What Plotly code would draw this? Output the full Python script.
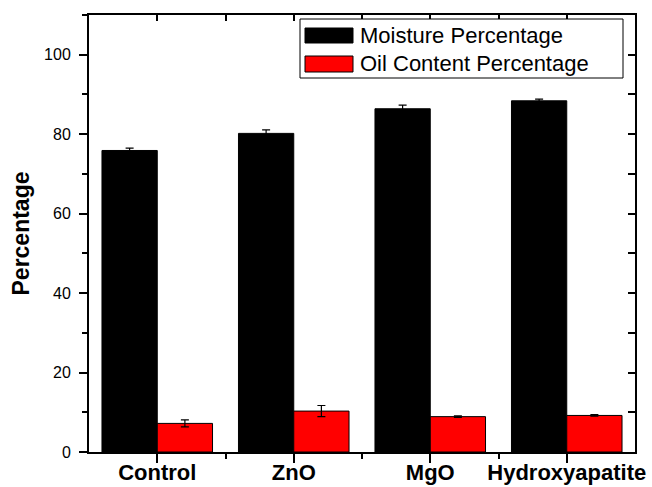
import plotly.graph_objects as go

categories = ["Control", "ZnO", "MgO", "Hydroxyapatite"]
series_names = ["Moisture Percentage", "Oil Content Percentage"]
moisture = [75.9, 80.2, 86.4, 88.4]
moisture_err = [0.6, 0.9, 0.9, 0.4]
oil = [7.2, 10.3, 8.9, 9.2]
oil_err = [0.9, 1.4, 0.2, 0.2]
series_colors = ["#000000", "#ff0000"]

xpos = list(range(len(categories)))
mids = [i + 0.5 for i in xpos[:-1]]

W, H = 652, 487
ML, MR, MT, MB = 89, 17, 15, 35
PW, PH = W - ML - MR, H - MT - MB

fig = go.Figure()
for name, vals, errs, col in [
    (series_names[0], moisture, moisture_err, series_colors[0]),
    (series_names[1], oil, oil_err, series_colors[1]),
]:
    fig.add_trace(go.Bar(
        x=xpos, y=vals, name=name,
        marker=dict(color=col, line=dict(color="#000000", width=1)),
        error_y=dict(type="data", array=errs, visible=True,
                     color="#000000", thickness=1.2, width=4),
        showlegend=False,
    ))

# invisible trace to anchor the mirrored axes
fig.add_trace(go.Scatter(x=[None], y=[None], xaxis="x2", yaxis="y2",
                         showlegend=False, hoverinfo="skip"))

FAM = "Liberation Sans, Arial, sans-serif"
axis_font = dict(family=FAM, color="#000000")

fig.update_layout(
    width=W, height=H,
    margin=dict(l=ML, r=MR, t=MT, b=MB, pad=0, autoexpand=False),
    paper_bgcolor="white", plot_bgcolor="white",
    barmode="group", bargap=0.19, bargroupgap=0,
    font=axis_font,
    xaxis=dict(
        automargin=False,
        range=[-0.5, 3.5], tickmode="array", tickvals=xpos, ticktext=categories,
        ticks="outside", ticklen=9, tickwidth=1.5, tickcolor="#000000",
        minor=dict(tickmode="array", tickvals=mids, ticks="outside",
                   ticklen=5, tickwidth=1.5, tickcolor="#000000"),
        showline=True, linewidth=2, linecolor="#000000",
        showgrid=False, zeroline=False,
        ticklabelstandoff=-9,
        tickfont=dict(size=22, family=FAM, color="#000000", weight="bold"),
    ),
    xaxis2=dict(
        automargin=False,
        overlaying="x", side="top", range=[-0.5, 3.5],
        tickmode="array", tickvals=xpos,
        ticks="inside", ticklen=6, tickwidth=1.5, tickcolor="#000000",
        minor=dict(tickmode="array", tickvals=mids, ticks="inside",
                   ticklen=6, tickwidth=1.5, tickcolor="#000000"),
        showticklabels=False, showline=True, linewidth=2, linecolor="#000000",
        showgrid=False, zeroline=False,
    ),
    yaxis=dict(
        automargin=False,
        range=[0, 110], tickmode="array", tickvals=[0, 20, 40, 60, 80, 100],
        ticks="outside", ticklen=8, tickwidth=1.5, tickcolor="#000000",
        minor=dict(tickmode="array", tickvals=[10, 30, 50, 70, 90, 110],
                   ticks="outside", ticklen=5, tickwidth=1.5, tickcolor="#000000"),
        showline=True, linewidth=2, linecolor="#000000",
        showgrid=False, zeroline=False,
        ticklabelstandoff=5,
        tickfont=dict(size=16, family=FAM, color="#000000"),
        title=dict(text="Percentage", standoff=8,
                   font=dict(size=23, family=FAM, color="#000000", weight="bold")),
    ),
    yaxis2=dict(
        automargin=False,
        overlaying="y", side="right", range=[0, 110],
        tickmode="array", tickvals=[0, 10, 20, 30, 40, 50, 60, 70, 80, 90, 100],
        ticks="inside", ticklen=7, tickwidth=1.5, tickcolor="#000000",
        showticklabels=False, showline=True, linewidth=2, linecolor="#000000",
        showgrid=False, zeroline=False,
    ),
)

# legend box drawn in paper coordinates
def px_x(p):
    return (p - ML) / PW

def px_y(p):
    return (H - MB - p) / PH

shapes = [dict(type="rect", xref="paper", yref="paper",
               x0=px_x(300), x1=px_x(623), y0=px_y(78), y1=px_y(19),
               line=dict(color="#000000", width=1), fillcolor="white", layer="above")]
annotations = []
rows = [(28, 43, 35.5), (56, 72, 64)]
for (top, bot, mid), name, col in zip(rows, series_names, series_colors):
    shapes.append(dict(type="rect", xref="paper", yref="paper",
                       x0=px_x(305), x1=px_x(353), y0=px_y(bot), y1=px_y(top),
                       line=dict(color="#000000", width=1), fillcolor=col, layer="above"))
    annotations.append(dict(xref="paper", yref="paper", x=px_x(358), y=px_y(mid),
                            xanchor="left", yanchor="middle", showarrow=False,
                            text=name,
                            font=dict(size=22, family=FAM, color="#000000")))
fig.update_layout(shapes=shapes, annotations=annotations)

fig.write_html("out.html", config={"displayModeBar": False},
               post_script="document.body.style.margin='0';document.body.style.padding='0';")
